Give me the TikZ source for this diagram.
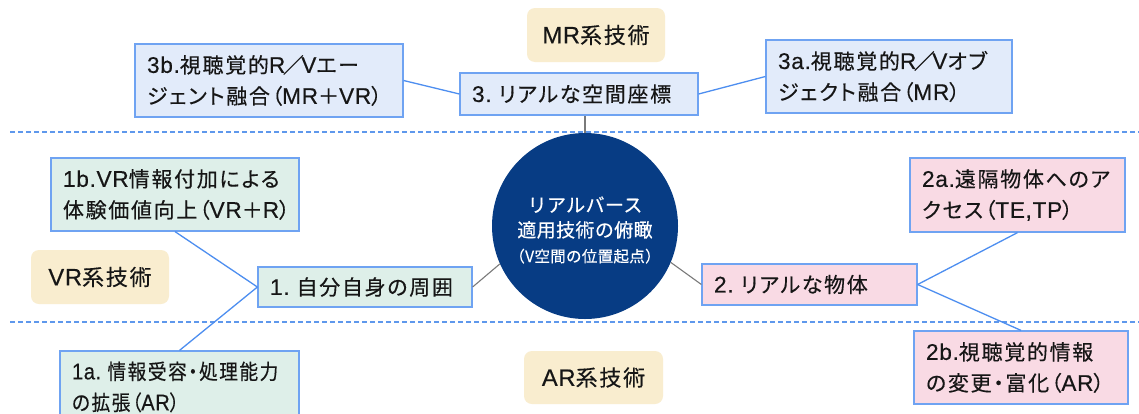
\documentclass[tikz,border=0pt]{standalone}
\usepackage{graphicx}
\usepackage{fontspec}
\setmainfont{Noto Sans CJK JP}[RawFeature={+palt}, LetterSpace=8, FakeBold=0.35]
\newfontfamily\latf{Liberation Sans}[Scale=1.08, LetterSpace=3, FakeBold=0.35]
\newcommand{\lat}[1]{{\latf #1}}
\newcommand{\sls}{\hspace{-2.5pt}／\hspace{-2.5pt}}
\definecolor{bordblue}{HTML}{6FA3F2}
\definecolor{lineblue}{HTML}{4D8EF0}
\definecolor{dashblue}{HTML}{5E98EC}
\definecolor{fillblue}{HTML}{E2EBFA}
\definecolor{fillgreen}{HTML}{DEEFE9}
\definecolor{fillpink}{HTML}{F9DAE4}
\definecolor{beige}{HTML}{F9EDCF}
\definecolor{navy}{HTML}{073C84}
\definecolor{graylink}{HTML}{7A7A7A}
\definecolor{textc}{HTML}{161616}
\tikzset{
  box/.style={draw=bordblue, line width=1.2pt, inner xsep=12pt, inner ysep=0pt,
    align=left, font=\fontsize{21}{31}\selectfont, text=textc, anchor=center},
  bluebox/.style={box, fill=fillblue},
  greenbox/.style={box, fill=fillgreen},
  pinkbox/.style={box, fill=fillpink},
  catbox/.style={fill=beige, rounded corners=8pt, inner sep=0pt, minimum width=138pt,
    minimum height=54pt, font=\fontsize{22}{26}\selectfont, text=textc},
  circtext/.style={text=white, align=center, inner sep=0pt,
    font=\fontsize{19}{25}\selectfont\addfontfeature{RawFeature={-palt}, LetterSpace=2}},
  bluelink/.style={draw=lineblue, line width=1.3pt},
  graylink/.style={draw=graylink, line width=1.1pt},
  sepline/.style={draw=dashblue, line width=1.2pt, dash pattern=on 5pt off 3pt},
}
\begin{document}
\begin{tikzpicture}[x=1pt,y=-1pt]
\useasboundingbox (0,0) rectangle (1139,413);
\clip (0,0) rectangle (1139,413);
\fill[white] (0,0) rectangle (1139,413);
% separator lines
\draw[sepline] (10,132) -- (1139,132);
\draw[sepline] (10,322) -- (1139,322);
% category labels
\node[catbox] (mr) at (596,35) {\lat{MR}系技術};
\node[catbox] (vr) at (100,277) {\lat{VR}系技術};
\node[catbox, minimum width=139pt, minimum height=53pt] (ar) at (593.5,377.5) {\lat{AR}系技術};
% center circle
\node[circle, fill=navy, minimum size=186pt, inner sep=0pt] (c) at (585,226) {};
\node[circtext] (ct) at (585,230)
  {リアルバース\\適用技術の俯瞰\\{\fontsize{15.5}{25}\selectfont （V空間の位置起点）}};
% MR group
\node[bluebox, minimum width=268pt, text width=244pt, minimum height=73pt] (b3b) at (269,80.5)
  {\lat{3b.}視聴覚的\lat{R}\sls\lat{V}エー\\ジェント融合（\lat{MR}＋\lat{VR}）};
\node[bluebox, minimum width=238pt, text width=214pt, minimum height=42pt] (b3) at (579,94)
  {\lat{3.~}リアルな空間座標};
\node[bluebox, minimum width=246pt, text width=222pt, minimum height=73pt] (b3a) at (889,76.5)
  {\lat{3a.}視聴覚的\lat{R}\sls\lat{V}オブ\\ジェクト融合（\lat{MR}）};
% VR group
\node[greenbox, minimum width=248pt, text width=224pt, minimum height=73pt] (b1b) at (175,194.5)
  {\lat{1b.VR}情報付加による\\体験価値向上（\lat{VR}＋\lat{R}）};
\node[greenbox, minimum width=214pt, text width=190pt, minimum height=40pt] (b1) at (365,287)
  {\lat{1.~}自分自身の周囲};
\node[greenbox, minimum width=239pt, text width=215pt, minimum height=72pt] (b1a) at (179.5,387)
  {\scalebox{0.89}[1]{\lat{1a.~}情報受容・処理能力}\\\scalebox{0.89}[1]{の拡張（\lat{AR}）}};
% AR group
\node[pinkbox, minimum width=215pt, text width=191pt, minimum height=74pt] (b2a) at (1017.5,195)
  {\lat{2a.}遠隔物体へのア\\クセス（\lat{TE,TP}）};
\node[pinkbox, minimum width=215pt, text width=191pt, minimum height=41pt] (b2) at (809.5,284.5)
  {\lat{2.~}リアルな物体};
\node[pinkbox, minimum width=214pt, text width=190pt, minimum height=73pt] (b2b) at (1021,367.5)
  {\lat{2b.}視聴覚的情報\\の変更・富化（\lat{AR}）};
% connectors
\draw[bluelink] (b3b.east) -- (b3.west);
\draw[bluelink] (b3.east) -- (b3a.west);
\draw[graylink] (c.north) -- (c.north |- b3.south);
\draw[bluelink] (b1b.south) -- (b1.west);
\draw[bluelink] (b1.west) -- (b1a.north);
\draw[graylink] (b1.east) -- (c.204);
\draw[graylink] (c.337) -- (b2.west);
\draw[bluelink] (b2.east) -- (b2a.south);
\draw[bluelink] (b2.east) -- (b2b.north);
\end{tikzpicture}
\end{document}
